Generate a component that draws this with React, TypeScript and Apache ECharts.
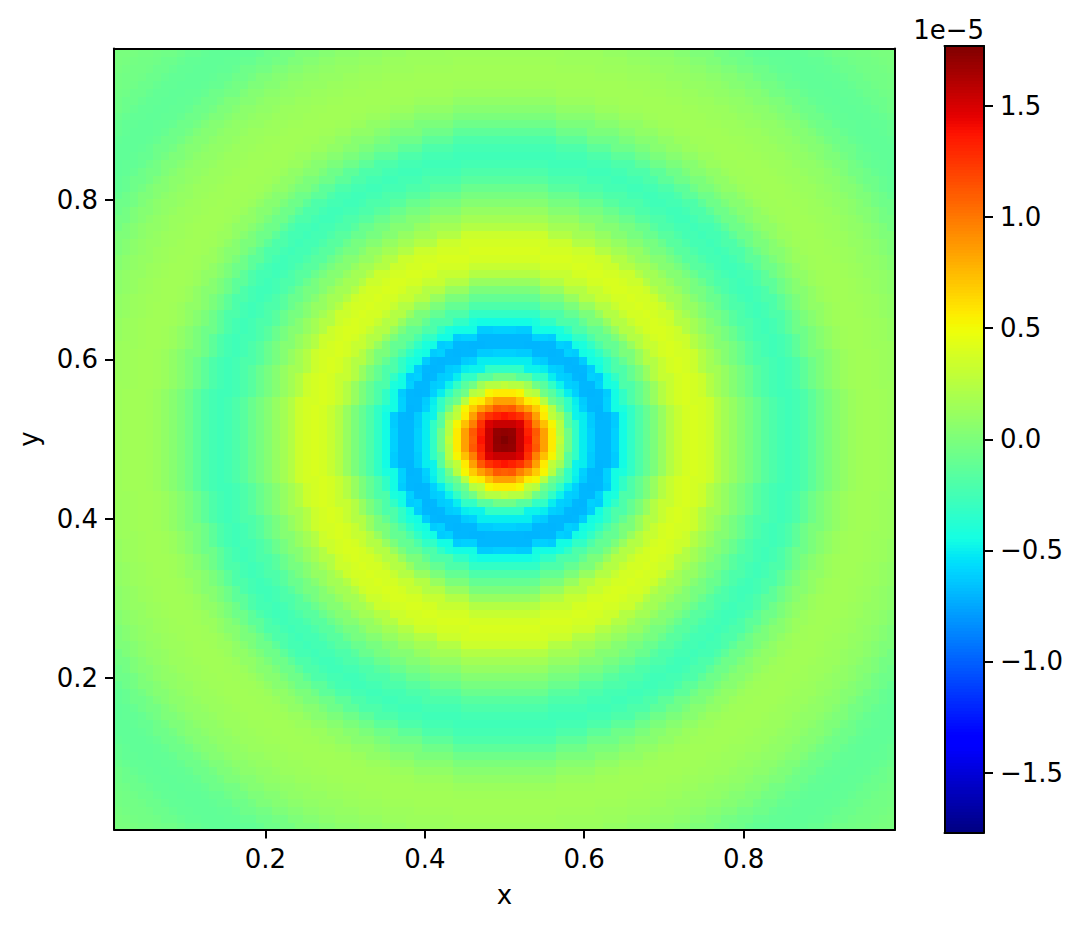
import React, { useEffect, useRef } from "react";
import * as echarts from "echarts";

// Values (in units of 1e-5) at cells lying at these distances
// from the centre, measured in cells, along the centre row, the diagonal and a few
// off-axis cells. Each heatmap cell takes the value of the nearest listed distance.
const readRadii = [
  0, 1, 1.41, 2, 2.24, 2.83, 3, 3.16, 3.6, 4, 4.24, 4.47, 5, 5.39, 5.66, 6, 6.4, 7, 7.07, 7.6,
  8, 8.49, 9, 9.9, 10, 11, 11.3, 12, 12.7, 13, 14, 14.1, 15, 15.6, 16, 17, 18, 19,
  20, 21, 22, 23, 24, 25, 26, 27, 28, 29,
  30, 31, 32, 33, 34, 35, 36, 37, 38, 39,
  40, 41, 42, 43, 44, 45, 46, 47, 48, 49,
  50, 51, 52, 53, 54, 55, 56, 57, 58, 59,
  60, 61, 62, 63, 64, 65, 66, 67, 68, 69, 70,
];
const readValues = [
  1.77, 1.72, 1.71, 1.55, 1.55, 1.49, 1.38, 1.33, 1.27, 1.09, 1.12, 0.97, 0.85, 0.73, 0.69, 0.57, 0.53, 0.29, 0.25, 0.15,
  -0.05, -0.15, -0.32, -0.48, -0.5, -0.6, -0.62, -0.69, -0.7, -0.69, -0.6, -0.62, -0.45, -0.42, -0.32, -0.2, -0.1, 0.0,
  0.12, 0.24, 0.32, 0.38, 0.4, 0.38, 0.34, 0.24, 0.17, 0.11,
  0.04, -0.02, -0.08, -0.15, -0.2, -0.24, -0.26, -0.24, -0.2, -0.13,
  -0.06, 0.0, 0.05, 0.09, 0.13, 0.15, 0.16, 0.16, 0.15, 0.14,
  0.13, 0.11, 0.09, 0.07, 0.04, 0.01, -0.03, -0.06, -0.09, -0.11,
  -0.12, -0.12, -0.11, -0.09, -0.07, -0.05, -0.04, -0.03, -0.02, -0.01, -0.01,
];
const cellCount = 99;
const axisMin = 0.01;
const axisMax = 0.99;
const colorMin = -1.77;
const colorMax = 1.77;
const plotTicks = [0.2, 0.4, 0.6, 0.8];
const barTicks = [-1.5, -1.0, -0.5, 0.0, 0.5, 1.0, 1.5];
const barLevels = 256;

const FONT = "DejaVu Sans";
const FONT_SIZE = 26;
const LINE = { color: "#000", width: 2 };

// matplotlib's jet colormap
function jet(t: number): string {
  const ramp = (pts: number[][]) => {
    for (let i = 1; i < pts.length; i++) {
      if (t <= pts[i][0]) {
        const [a, va] = pts[i - 1];
        const [b, vb] = pts[i];
        return va + ((vb - va) * (t - a)) / (b - a);
      }
    }
    return pts[pts.length - 1][1];
  };
  const r = ramp([[0, 0], [0.35, 0], [0.66, 1], [0.89, 1], [1, 0.5]]);
  const g = ramp([[0, 0], [0.125, 0], [0.375, 1], [0.64, 1], [0.91, 0], [1, 0]]);
  const b = ramp([[0, 0.5], [0.11, 1], [0.34, 1], [0.65, 0], [1, 0]]);
  return `rgb(${Math.round(r * 255)},${Math.round(g * 255)},${Math.round(b * 255)})`;
}
const jetStops = Array.from({ length: 129 }, (_, i) => jet(i / 128));

function nearestRead(r: number): number {
  let best = 0;
  for (let k = 1; k < readRadii.length; k++) {
    if (Math.abs(readRadii[k] - r) < Math.abs(readRadii[best] - r)) best = k;
  }
  return readValues[best];
}

const cellSize = (axisMax - axisMin) / cellCount;
const centre = (cellCount - 1) / 2;
const cells: number[][] = [];
for (let j = 0; j < cellCount; j++) {
  for (let i = 0; i < cellCount; i++) {
    cells.push([
      axisMin + (i + 0.5) * cellSize,
      axisMin + (j + 0.5) * cellSize,
      nearestRead(Math.hypot(i - centre, j - centre)),
    ]);
  }
}

const levelSize = (colorMax - colorMin) / barLevels;
const levels: number[][] = [];
for (let k = 0; k < barLevels; k++) {
  const v = colorMin + (k + 0.5) * levelSize;
  levels.push([0.5, v, v]);
}

const fmt = (v: number | string) => Number(v).toFixed(1).replace("-", "\u2212");
const labelStyle = { color: "#000", fontFamily: FONT, fontSize: FONT_SIZE };

function lineOnly(gridIndex: number, position: string, min: number, max: number) {
  return {
    type: "value",
    gridIndex,
    position,
    min,
    max,
    z: 5,
    axisLine: { show: true, onZero: false, lineStyle: LINE },
    axisTick: { show: false },
    axisLabel: { show: false },
    splitLine: { show: false },
  };
}

export default function App() {
  const ref = useRef<HTMLDivElement>(null);
  useEffect(() => {
    const chart = echarts.init(ref.current!, undefined, { renderer: "svg" });
    const ticked = (ticks: number[], margin: number) => ({
      axisLine: { show: true, onZero: false, lineStyle: LINE },
      axisTick: { show: true, length: 9, lineStyle: LINE, customValues: ticks },
      axisLabel: { ...labelStyle, margin, formatter: fmt, customValues: ticks },
      splitLine: { show: false },
    });
    chart.setOption({
      animation: false,
      backgroundColor: "#fff",
      grid: [
        { left: 114, top: 48.5, width: 781, height: 781 },
        { left: 944.5, top: 46, width: 39.5, height: 786.5 },
      ],
      xAxis: [
        {
          type: "value",
          gridIndex: 0,
          position: "bottom",
          min: axisMin,
          max: axisMax,
          z: 5,
          name: "x",
          nameLocation: "middle",
          nameGap: 52,
          nameTextStyle: labelStyle,
          ...ticked(plotTicks, 16),
        },
        lineOnly(0, "top", axisMin, axisMax),
        { ...lineOnly(1, "bottom", 0, 1) },
        { ...lineOnly(1, "top", 0, 1) },
      ],
      yAxis: [
        {
          type: "value",
          gridIndex: 0,
          position: "left",
          min: axisMin,
          max: axisMax,
          z: 5,
          name: "y",
          nameLocation: "middle",
          nameGap: 72,
          nameRotate: 90,
          nameTextStyle: labelStyle,
          ...ticked(plotTicks, 16),
        },
        lineOnly(0, "right", axisMin, axisMax),
        {
          type: "value",
          gridIndex: 1,
          position: "right",
          min: colorMin,
          max: colorMax,
          z: 5,
          ...ticked(barTicks, 16),
        },
        lineOnly(1, "left", colorMin, colorMax),
      ],
      visualMap: {
        show: false,
        type: "continuous",
        seriesIndex: [0, 1],
        dimension: 2,
        min: colorMin,
        max: colorMax,
        inRange: { color: jetStops },
      },
      series: [
        {
          type: "custom",
          xAxisIndex: 0,
          yAxisIndex: 0,
          encode: { x: 0, y: 1 },
          data: cells,
          silent: true,
          renderItem: (_p: any, api: any) => {
            const c = api.coord([api.value(0), api.value(1)]);
            const s = api.size([cellSize, cellSize]);
            const x0 = Math.round(c[0] - s[0] / 2);
            const x1 = Math.round(c[0] + s[0] / 2);
            const y0 = Math.round(c[1] - s[1] / 2);
            const y1 = Math.round(c[1] + s[1] / 2);
            return {
              type: "rect",
              // one pixel of overlap so no seam shows between neighbouring cells
              shape: { x: x0, y: y0, width: x1 - x0 + 1, height: y1 - y0 + 1 },
              style: { fill: api.visual("color") },
            };
          },
        },
        {
          type: "custom",
          xAxisIndex: 2,
          yAxisIndex: 2,
          encode: { x: 0, y: 1 },
          data: levels,
          silent: true,
          renderItem: (_p: any, api: any) => {
            const top = api.coord([0, api.value(1) + levelSize / 2]);
            const bottom = api.coord([1, api.value(1) - levelSize / 2]);
            const y0 = Math.round(top[1]);
            const y1 = Math.round(bottom[1]);
            return {
              type: "rect",
              shape: {
                x: top[0],
                y: y0,
                width: bottom[0] - top[0],
                height: y1 - y0 + 1,
              },
              style: { fill: api.visual("color") },
            };
          },
        },
      ],
      graphic: [
        {
          type: "text",
          x: 984,
          y: 30,
          style: {
            text: "1e\u22125",
            fill: "#000",
            font: `${FONT_SIZE}px "${FONT}"`,
            textAlign: "right",
            textVerticalAlign: "middle",
          },
        },
      ],
    });
    return () => chart.dispose();
  }, []);
  return (
    <div
      ref={ref}
      style={{ position: "fixed", left: 0, top: 0, width: 1084, height: 928 }}
    />
  );
}
